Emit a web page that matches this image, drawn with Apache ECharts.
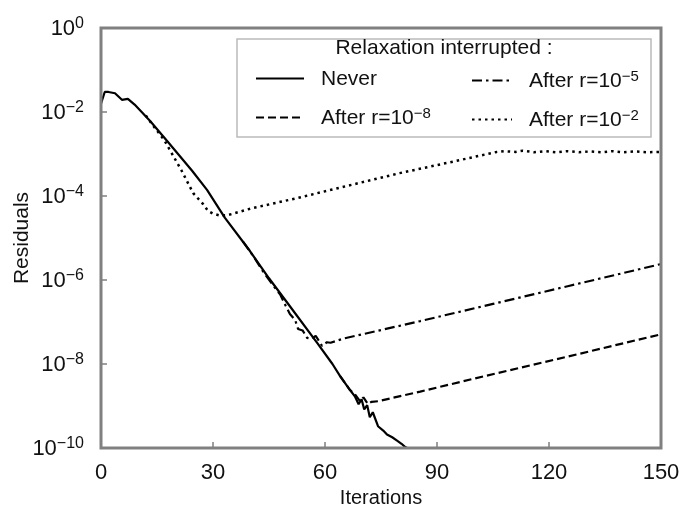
<!DOCTYPE html>
<html>
<head>
<meta charset="utf-8">
<script src="https://cdn.jsdelivr.net/npm/echarts@6/dist/echarts.min.js"></script>
<style>html,body{margin:0;padding:0;background:#fff;}#c{width:681px;height:505px;}</style>
</head>
<body>
<div id="c"></div>
<script>
// ---- data ----
const xTicks = [0, 30, 60, 90, 120, 150];
const yTickExponents = [0, -2, -4, -6, -8, -10];

const seriesNames = ['Never', 'After r=10^-5', 'After r=10^-8', 'After r=10^-2'];

const neverX = [0, 1, 2, 3.75, 5.6, 7.2, 9, 13.1, 18, 24.4, 28.4, 33.2, 39.9, 45, 50, 57.9, 62, 64, 66.7, 68, 69, 69.8, 70.5, 71.3, 72, 72.8, 74.2, 75.6, 76.6, 78, 79.3, 80.5, 81.5, 82];
const neverY = [1.58e-2, 3.0e-2, 3.0e-2, 2.8e-2, 1.95e-2, 2.05e-2, 1.5e-2, 6.2e-3, 1.9e-3, 4.0e-4, 1.4e-4, 3.0e-5, 4.9e-6, 1.1e-6, 2.8e-7, 3.2e-8, 1.0e-8, 5.2e-9, 2.4e-9, 1.7e-9, 1.1e-9, 1.45e-9, 8.3e-10, 1.05e-9, 5.4e-10, 7.1e-10, 3.3e-10, 2.6e-10, 2.1e-10, 1.8e-10, 1.5e-10, 1.26e-10, 1.05e-10, 1.0e-10];

const r5X = [38, 40.8, 43.4, 46, 48, 49.5, 50.6, 52, 52.8, 54, 55.2, 56.5, 57.5, 59.2, 60.5, 61.5, 64.8, 85.5, 105, 125, 150];
const r5Y = [8.3e-6, 3.7e-6, 1.6e-6, 7.6e-7, 4.5e-7, 2.4e-7, 1.55e-7, 1.12e-7, 6.8e-8, 6.3e-8, 4.2e-8, 4.0e-8, 4.7e-8, 2.7e-8, 3.3e-8, 3.2e-8, 4.0e-8, 1.05e-7, 2.7e-7, 7.1e-7, 2.4e-6];

const r8X = [64, 66.7, 68, 69.4, 70.3, 71.5, 72.5, 74.2, 85.5, 100, 125, 150];
const r8Y = [5.2e-9, 2.4e-9, 1.9e-9, 1.3e-9, 1.6e-9, 1.12e-9, 1.26e-9, 1.3e-9, 2.2e-9, 4.5e-9, 1.5e-8, 5.1e-8];

const r2X = [12, 13.7, 17, 21.6, 24.7, 27.3, 28.7, 30, 32, 34, 40, 52.5, 65, 80, 95, 106, 108, 111, 113, 116, 119, 122, 125, 128, 131, 134, 137, 140, 143, 146, 150];
const r2Y = [8.3e-3, 5.1e-3, 2.1e-3, 4.0e-4, 1.17e-4, 6.5e-5, 4.4e-5, 3.8e-5, 3.4e-5, 3.5e-5, 5.0e-5, 8.9e-5, 1.66e-4, 3.5e-4, 6.8e-4, 1.12e-3, 1.17e-3, 1.12e-3, 1.2e-3, 1.1e-3, 1.17e-3, 1.1e-3, 1.17e-3, 1.1e-3, 1.15e-3, 1.1e-3, 1.17e-3, 1.1e-3, 1.15e-3, 1.1e-3, 1.12e-3];

// ---- chart ----
const FONT = 'Liberation Sans, Arial, sans-serif';
const pair = (xs, ys) => xs.map((x, i) => [x, ys[i]]);

function supLabel(name) {
  const m = name.match(/^(.*)10\^(-?\d+)$/);
  if (!m) return '{t|' + name + '}';
  const e = m[2].replace('-', '\u2212');
  return '{t|' + m[1] + '10}{s|' + e + '}';
}

const chart = echarts.init(document.getElementById('c'), null, {renderer: 'canvas'});

const richLegend = {
  t: {fontFamily: FONT, fontSize: 21, color: '#111', verticalAlign: 'bottom', lineHeight: 23},
  s: {fontFamily: FONT, fontSize: 15, color: '#111', verticalAlign: 'top', lineHeight: 15}
};

function mkSeries(name, xs, ys, type, width, z) {
  return {
    name: name, type: 'line', data: pair(xs, ys), symbol: 'none', showSymbol: false,
    animation: false, z: z,
    lineStyle: {color: '#000', width: width, type: type, cap: 'butt'},
    itemStyle: {color: '#000'}
  };
}

const legendCommon = {
  orient: 'vertical', itemHeight: 14, itemGap: 16, z: 12, selectedMode: false,
  formatter: supLabel, textStyle: {rich: richLegend, padding: [0, 0, 0, 12]},
  itemStyle: {opacity: 0}
};

chart.setOption({
  animation: false,
  backgroundColor: '#fff',
  grid: {left: 101, right: 20, top: 28, bottom: 57, show: true, borderColor: '#808080', borderWidth: 3, backgroundColor: 'transparent', z: 5, containLabel: false, outerBoundsMode: 'none'},
  xAxis: {
    type: 'value', min: xTicks[0], max: xTicks[xTicks.length - 1], interval: 30,
    name: 'Iterations', nameLocation: 'middle', nameGap: 40, nameMoveOverlap: false,
    nameTextStyle: {fontFamily: FONT, fontSize: 20, color: '#111'},
    axisLine: {show: false},
    axisTick: {show: true, inside: true, length: 6, lineStyle: {color: '#808080', width: 1.5}},
    axisLabel: {fontFamily: FONT, fontSize: 22, color: '#111', margin: 14},
    splitLine: {show: false}
  },
  yAxis: {
    type: 'log', logBase: 10, min: Math.pow(10, yTickExponents[yTickExponents.length - 1]), max: Math.pow(10, yTickExponents[0]), interval: 2,
    name: 'Residuals', nameLocation: 'middle', nameGap: 68, nameRotate: 90, nameMoveOverlap: false,
    nameTextStyle: {fontFamily: FONT, fontSize: 21, color: '#111'},
    axisLine: {show: false},
    axisTick: {show: true, inside: true, length: 6, lineStyle: {color: '#808080', width: 1.5}},
    axisLabel: {
      margin: 17,
      formatter: function (v) {
        const e = Math.round(Math.log10(v));
        return '{b|10}{s|' + (e === 0 ? '0' : '\u2212' + (-e)) + '}';
      },
      rich: {
        b: {fontFamily: FONT, fontSize: 22, color: '#111', verticalAlign: 'bottom', lineHeight: 24},
        s: {fontFamily: FONT, fontSize: 16, color: '#111', verticalAlign: 'top', lineHeight: 16, padding: [0, 0, 18, 0]}
      }
    },
    splitLine: {show: false}
  },
  graphic: [
    {type: 'rect', z: 10, shape: {x: 237, y: 39, width: 414, height: 98}, style: {fill: '#fff', stroke: '#bbbbbb', lineWidth: 1.5}},
    {type: 'text', z: 11, x: 444, y: 48, style: {text: 'Relaxation interrupted :', font: '21px ' + FONT, fill: '#111', textAlign: 'center', textVerticalAlign: 'middle'}}
  ],
  legend: [
    Object.assign({data: [seriesNames[0], seriesNames[2]], left: 250, top: 64, itemWidth: 48}, legendCommon),
    Object.assign({data: [seriesNames[1], seriesNames[3]], left: 466, top: 64, itemWidth: 40}, legendCommon)
  ],
  series: [
    mkSeries(seriesNames[3], r2X, r2Y, [2.5, 4], 2.5, 2),
    mkSeries(seriesNames[1], r5X, r5Y, [10, 4, 2.5, 4], 2.2, 2),
    mkSeries(seriesNames[2], r8X, r8Y, [8, 4], 2.2, 2),
    mkSeries(seriesNames[0], neverX, neverY, 'solid', 2.2, 3)
  ]
});
</script>
</body>
</html>
